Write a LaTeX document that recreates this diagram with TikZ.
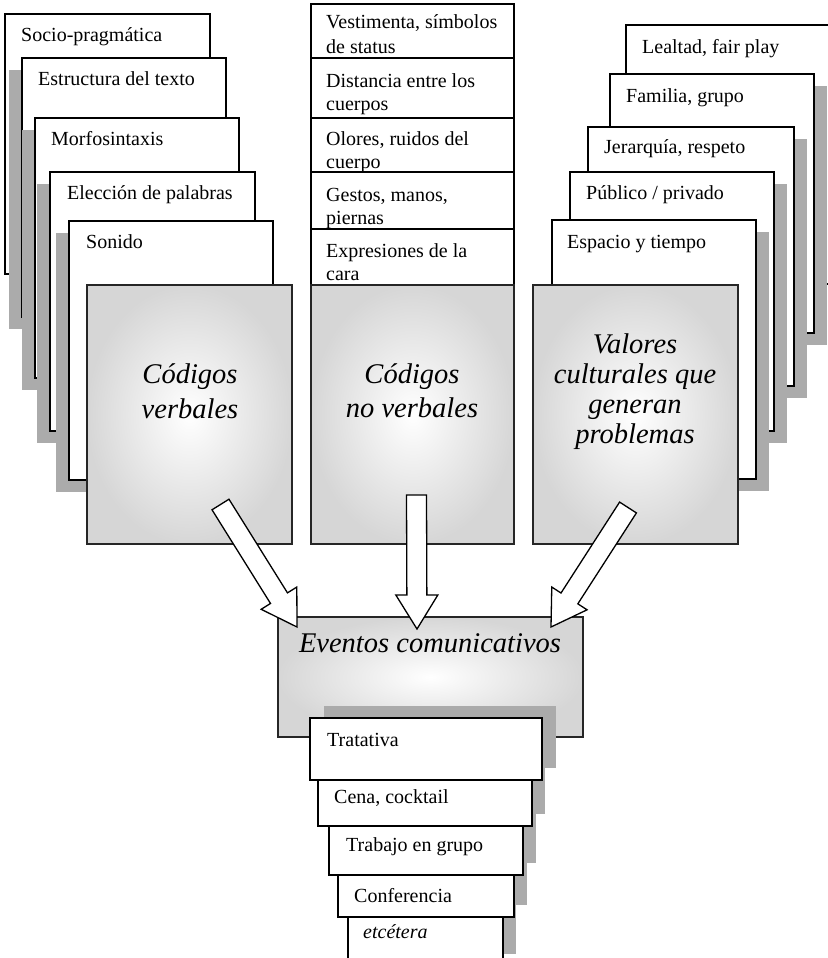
\documentclass[tikz,border=0pt]{standalone}
\usepackage{fontspec}
\setmainfont{Liberation Serif}
\usetikzlibrary{calc}
\tikzset{
  txtbox/.style={draw=black, line width=1.1pt, fill=white},
  shd/.style={fill=black!33},
  graybox/.style={draw=black!85, line width=1.3pt, inner color=white, outer color=black!16,
                  anchor=north west, inner sep=0pt, outer sep=0pt},
  lbl/.style={anchor=base west, inner sep=0pt, font=\fontsize{20}{24}\selectfont},
  lbli/.style={anchor=base west, inner sep=0pt, font=\fontsize{20}{24}\selectfont\itshape},
  big/.style={anchor=base, inner sep=0pt, font=\fontsize{28.5}{34}\selectfont\itshape},
  blockarr/.style={draw=black, line width=1.3pt, fill=white, line join=miter},
}
% name, x1, y1, x2, y2, shadow dx, shadow dy
\newcommand\stackbox[7]{%
  \fill[shd] ({#2+#6},{#3+#7}) rectangle ({#4+#6},{#5+#7});
  \draw[txtbox] (#2,#3) coordinate (#1) rectangle (#4,#5);}
% tail coordinate, tip coordinate
\newcommand\blockarrow[2]{%
  \path ($(#2)!34pt!(#1)$) coordinate (hb);
  \draw[blockarr] ($(#1)!10pt!90:(#2)$) -- ($(hb)!10pt!-90:(#1)$) -- ($(hb)!21pt!-90:(#1)$)
     -- (#2) -- ($(hb)!21pt!90:(#1)$) -- ($(hb)!10pt!90:(#1)$) -- ($(#1)!10pt!-90:(#2)$) -- cycle;}
\begin{document}
\begin{tikzpicture}[x=1pt,y=-1pt]
\useasboundingbox (0,0) rectangle (827,958);

% ---------- left column ----------
\stackbox{socio}{5}{14}{210}{274}{0}{0}
\node[lbl] (tsocio) at (21,42) {Socio-pragmática};
\stackbox{estr}{22}{58}{226}{317}{-13}{12}
\node[lbl] (testr) at (38,85) {Estructura del texto};
\stackbox{morf}{35}{118}{239}{378}{-13}{12}
\node[lbl] (tmorf) at (51,145) {Morfosintaxis};
\stackbox{elec}{50}{172}{255}{431}{-13}{12}
\node[lbl] (telec) at (67,199) {Elección de palabras};
\stackbox{soni}{69}{221}{273}{480}{-13}{12}
\node[lbl] (tsoni) at (86,248) {Sonido};
\node[graybox, minimum width=205pt, minimum height=259pt] (cv) at (87,285) {};
\node[big] (cv1) at (190,383) {Códigos};
\node[big] (cv2) at (190,418) {verbales};

% ---------- middle column ----------
\stackbox{m1}{311}{4}{514}{58}{0}{0}
\node[lbl] (tm1a) at (326,29) {Vestimenta, símbolos};
\node[lbl] (tm1b) at (326,53) {de status};
\stackbox{m2}{311}{58}{514}{118}{0}{0}
\node[lbl] (tm2a) at (326,87) {Distancia entre los};
\node[lbl] (tm2b) at (326,110) {cuerpos};
\stackbox{m3}{311}{118}{514}{172}{0}{0}
\node[lbl] (tm3a) at (326,145) {Olores, ruidos del};
\node[lbl] (tm3b) at (326,168) {cuerpo};
\stackbox{m4}{311}{172}{514}{229}{0}{0}
\node[lbl] (tm4a) at (326,201) {Gestos, manos,};
\node[lbl] (tm4b) at (326,224) {piernas};
\stackbox{m5}{311}{229}{514}{285}{0}{0}
\node[lbl] (tm5a) at (326,257) {Expresiones de la};
\node[lbl] (tm5b) at (326,280) {cara};
\node[graybox, minimum width=203pt, minimum height=259pt] (cnv) at (311,285) {};
\node[big] (cnv1) at (412,383) {Códigos};
\node[big] (cnv2) at (412,417) {no verbales};

% ---------- right column ----------
\stackbox{leal}{626}{25}{831}{284}{0}{0}
\node[lbl] (tleal) at (642,53) {Lealtad, fair play};
\stackbox{fami}{610}{74}{814}{333}{13}{12}
\node[lbl] (tfami) at (626,102) {Familia, grupo};
\stackbox{jera}{588}{127}{794}{386}{13}{12}
\node[lbl] (tjera) at (604,153) {Jerarquía, respeto};
\stackbox{publ}{570}{172}{774}{431}{13}{12}
\node[lbl] (tpubl) at (586,199) {Público / privado};
\stackbox{espa}{552}{220}{756}{479}{13}{12}
\node[lbl] (tespa) at (567,248) {Espacio y tiempo};
\node[graybox, minimum width=205pt, minimum height=259pt] (vc) at (533,285) {};
\node[big] (vc1) at (635,353) {Valores};
\node[big] (vc2) at (635,383) {culturales que};
\node[big] (vc3) at (635,413) {generan};
\node[big] (vc4) at (635,443) {problemas};

% ---------- events ----------
\node[graybox, minimum width=305pt, minimum height=120pt] (ev) at (278,617) {};
\node[big] (tev) at (430,652) {Eventos comunicativos};

\stackbox{etc}{348}{917}{503}{966}{13}{-12}
\node[lbli] (tetc) at (363,938) {etcétera};
\stackbox{conf}{338}{875}{514}{917}{13}{-12}
\node[lbl] (tconf) at (354,902) {Conferencia};
\stackbox{trab}{329}{826}{523}{875}{13}{-12}
\node[lbl] (ttrab) at (346,851) {Trabajo en grupo};
\stackbox{cena}{318}{780}{532}{826}{13}{-12}
\node[lbl] (tcena) at (334,803) {Cena, cocktail};
\stackbox{trat}{310}{718}{542}{780}{14}{-12}
\node[lbl] (ttrat) at (327,746) {Tratativa};

% ---------- arrows ----------
\coordinate (aLt) at (220.5,504.5);
\coordinate (aLp) at (297,627);
\coordinate (aMt) at (416.5,495);
\coordinate (aMp) at (417,629);
\coordinate (aRt) at (628,507.5);
\coordinate (aRp) at (551,627);
\blockarrow{aLt}{aLp}
\blockarrow{aMt}{aMp}
\blockarrow{aRt}{aRp}
\end{tikzpicture}
\end{document}
